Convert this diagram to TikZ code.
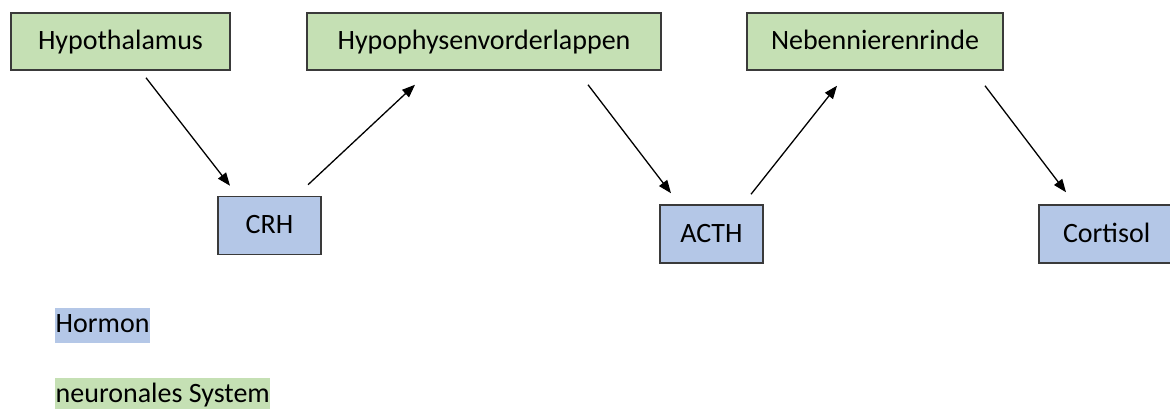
\documentclass[tikz,border=0pt]{standalone}
\usepackage{fontspec}
\setmainfont{Carlito}
\usetikzlibrary{arrows.meta}
\definecolor{boxgreen}{HTML}{C5E0B4}
\definecolor{boxblue}{HTML}{B4C7E7}
\definecolor{edge}{HTML}{3A3A3A}
\tikzset{
  base/.style={draw=edge, line width=1.5pt, inner sep=0pt, font=\fontsize{28}{32}\selectfont,
    text height=20.5pt, text depth=4pt},
  organ/.style={base, fill=boxgreen, minimum height=57pt},
  hormone/.style={base, fill=boxblue, minimum height=58pt},
  legendbox/.style={inner xsep=0.5pt, inner ysep=0pt, minimum height=35pt, anchor=west,
    font=\fontsize{28}{32}\selectfont, text height=19pt, text depth=6pt},
  arr/.style={draw=black, line width=1.3pt, -{Triangle[length=13pt,width=10pt]}}
}
\begin{document}
\begin{tikzpicture}[x=1pt, y=-1pt]
\clip (0,0) rectangle (1170,409);
\fill[white] (0,0) rectangle (1170,409);
% organs
\node[organ, minimum width=219pt] (hyp) at (120.5,41.5) {Hypothalamus};
\node[organ, minimum width=354pt] (hvl) at (484,41.5) {Hypophysenvorderlappen};
\node[organ, minimum width=256pt] (nnr) at (875,41.5) {Nebennierenrinde};
% hormones
\node[hormone, minimum width=103pt] (crh) at (269.5,225.5) {CRH};
\node[hormone, minimum width=103pt] (acth) at (711.5,234) {ACTH};
\node[hormone, minimum width=136pt, text width=136pt, align=left] (cort) at (1107,234) {\hspace*{24pt}Cortisol};
% arrows
\draw[arr] ([shift={(25.5,7)}]hyp.south) -- ([shift={(-39.5,-10)}]crh.north);
\draw[arr] ([shift={(38.5,-11)}]crh.north) -- ([shift={(-69,14)}]hvl.south);
\draw[arr] ([shift={(104,14)}]hvl.south) -- ([shift={(-40.5,-11)}]acth.north);
\draw[arr] ([shift={(39.5,-10)}]acth.north) -- ([shift={(-38,15)}]nnr.south);
\draw[arr] ([shift={(110,15)}]nnr.south) -- ([shift={(-41,-12)}]cort.north);
% legend
\node[legendbox, fill=boxblue] (lhormon) at (55,325.5) {Hormon};
\node[legendbox, fill=boxgreen] (lneuro) at (55,395.5) {neuronales System};
\end{tikzpicture}
\end{document}
